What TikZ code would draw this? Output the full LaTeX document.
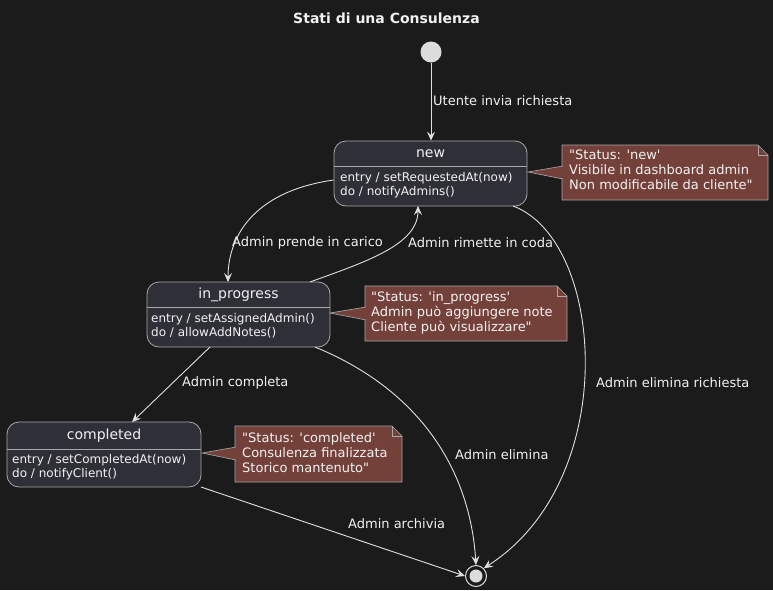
\documentclass[tikz,border=0pt]{standalone}
\usepackage{fontspec}
\setmainfont{DejaVu Sans}[Ligatures=TeXOff]
\usetikzlibrary{arrows.meta,calc}
\definecolor{bg}{HTML}{1B1B1B}
\definecolor{stfill}{HTML}{2F2F38}
\definecolor{stborder}{HTML}{A8A8A8}
\definecolor{notefill}{HTML}{74413A}
\definecolor{txt}{HTML}{F2F2F2}
\definecolor{edge}{HTML}{E0E0E0}
\definecolor{dot}{HTML}{DCDCDC}
\tikzset{
  statebox/.style={draw=stborder, fill=stfill, rounded corners=12pt, line width=0.8pt, inner sep=0},
  sttitle/.style={text=txt, font=\fontsize{14}{16}\selectfont, inner sep=0},
  stbody/.style={text=txt, font=\fontsize{12}{14}\selectfont, align=left, anchor=north west, inner sep=0},
  lbl/.style={text=txt, font=\fontsize{13}{15}\selectfont, anchor=west, inner sep=0},
  notetext/.style={text=txt, font=\fontsize{13}{15}\selectfont, align=left, anchor=north west, inner sep=0},
  notebox/.style={draw=stborder, fill=notefill, line width=0.6pt},
  conn/.style={draw=edge, line width=0.9pt, -{Stealth[length=9pt,width=8pt,inset=3.5pt]}},
}
\begin{document}
\begin{tikzpicture}[x=1pt,y=-1pt]
\fill[bg] (0,0) rectangle (773,590);
\useasboundingbox (0,0) rectangle (773,590);

\node[text=txt, font=\bfseries\fontsize{14}{16}\selectfont] (title) at (386.5,18) {Stati di una Consulenza};

% start / end
\node[circle, fill=dot, minimum size=21pt, inner sep=0] (start) at (431,52) {};
\node[circle, draw=dot, line width=1pt, fill=bg, minimum size=21pt, inner sep=0] (end) at (476,576) {};
\node[circle, fill=dot, minimum size=13pt, inner sep=0] (endin) at (476,576) {};

% states
\node[statebox, minimum width=193pt, minimum height=65pt] (new) at (430.5,173.5) {};
\draw[stborder, line width=0.8pt] (new.west |- 0,166) -- (new.east |- 0,166);
\node[sttitle] (newt) at (430.5,153.5) {new};
\node[stbody] (newb) at (340,172) {entry / setRequestedAt(now)\\do / notifyAdmins()};

\node[statebox, minimum width=183pt, minimum height=65pt] (prog) at (238.5,314.5) {};
\draw[stborder, line width=0.8pt] (prog.west |- 0,307) -- (prog.east |- 0,307);
\node[sttitle] (progt) at (238.5,294.5) {in\_progress};
\node[stbody] (progb) at (151,313) {entry / setAssignedAdmin()\\do / allowAddNotes()};

\node[statebox, minimum width=194pt, minimum height=65pt] (comp) at (104,454.5) {};
\draw[stborder, line width=0.8pt] (comp.west |- 0,449) -- (comp.east |- 0,449);
\node[sttitle] (compt) at (104,436) {completed};
\node[stbody] (compb) at (12,454) {entry / setCompletedAt(now)\\do / notifyClient()};

% notes
\draw[notebox] (562,145) -- (758,145) -- (768,155) -- (768,200) -- (562,200) -- cycle;
\draw[stborder, line width=0.6pt] (758,145) -- (758,155) -- (768,155);
\fill[notefill] (528,172) -- (563,166) -- (563,179) -- cycle;
\draw[stborder, line width=0.6pt] (563,166) -- (528,172) -- (563,179);
\node[notetext] (n1) at (569,149.5) {"Status: 'new'\\Visibile in dashboard admin\\Non modificabile da cliente"};

\draw[notebox] (365,286) -- (557,286) -- (567,296) -- (567,341) -- (365,341) -- cycle;
\draw[stborder, line width=0.6pt] (557,286) -- (557,296) -- (567,296);
\fill[notefill] (330,313) -- (366,307) -- (366,320) -- cycle;
\draw[stborder, line width=0.6pt] (366,307) -- (330,313) -- (366,320);
\node[notetext] (n2) at (371,291.5) {"Status: 'in\_progress'\\Admin può aggiungere note\\Cliente può visualizzare"};

\draw[notebox] (235,426) -- (392,426) -- (402,436) -- (402,482) -- (235,482) -- cycle;
\draw[stborder, line width=0.6pt] (392,426) -- (392,436) -- (402,436);
\fill[notefill] (202,453) -- (236,447) -- (236,460) -- cycle;
\draw[stborder, line width=0.6pt] (236,447) -- (202,453) -- (236,460);
\node[notetext] (n3) at (242,432) {"Status: 'completed'\\Consulenza finalizzata\\Storico mantenuto"};

% edges
\draw[conn] (start) -- (new.north -| start);
\node[lbl] (l1) at (433,101) {Utente invia richiesta};

\draw[conn] (new.west |- 0,180) .. controls (250,192) and (228,240) .. (228,282);
\node[lbl] (l2) at (232,243) {Admin prende in carico};

\draw[conn] (310,282) .. controls (365,262) and (418,245) .. (418,206);
\node[lbl] (l3) at (408,243) {Admin rimette in coda};

\draw[conn] (513,206) .. controls (605,240) and (622,480) .. (end.north east);
\node[lbl] (l4) at (596,383) {Admin elimina richiesta};

\draw[conn] (210,347) -- (132,422);
\node[lbl] (l5) at (182,383) {Admin completa};

\draw[conn] (315,347) .. controls (420,390) and (470,470) .. (end.north);
\node[lbl] (l6) at (455,455) {Admin elimina};

\draw[conn] (201,487) -- (end.west);
\node[lbl] (l7) at (348,524) {Admin archivia};
\end{tikzpicture}
\end{document}
